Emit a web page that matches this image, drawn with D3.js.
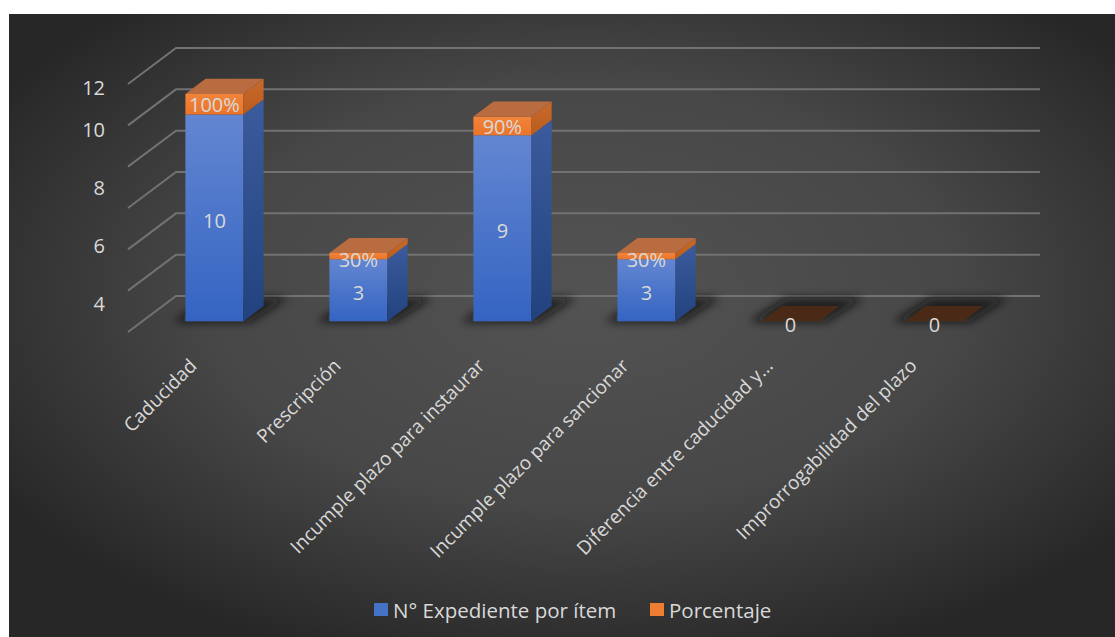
<!DOCTYPE html>
<html>
<head>
<meta charset="utf-8">
<script src="https://cdn.jsdelivr.net/npm/d3@7"></script>
<style>
  html, body { margin: 0; padding: 0; background: #fff; }
  svg { display: block; }
  text { font-family: 'Open Sans', sans-serif; fill: #d9d9d9; }
</style>
</head>
<body>
<svg width="1115" height="637"></svg>
<script>
var categories = [
  'Caducidad',
  'Prescripción',
  'Incumple plazo para instaurar',
  'Incumple plazo para sancionar',
  'Diferencia entre caducidad y...',
  'Improrrogabilidad del plazo'
]
var expedientes = [10, 3, 9, 3, 0, 0]
var porcentaje = [1, 0.3, 0.9, 0.3, 0, 0]
var gridValues = [0, 2, 4, 6, 8, 10, 12]
var tickLabels = [4, 6, 8, 10, 12]
var legendNames = ['N° Expediente por ítem', 'Porcentaje']

var svg = d3.select('svg')
var defs = svg.append('defs')

// background
var bg = defs.append('radialGradient').attr('id', 'bg')
  .attr('cx', '52%').attr('cy', '45%').attr('r', '62%')
bg.append('stop').attr('offset', '0%').attr('stop-color', '#535353')
bg.append('stop').attr('offset', '55%').attr('stop-color', '#474747')
bg.append('stop').attr('offset', '100%').attr('stop-color', '#272727')

function vgrad(id, top, bottom) {
  var g = defs.append('linearGradient').attr('id', id)
    .attr('x1', 0).attr('y1', 0).attr('x2', 0).attr('y2', 1)
  g.append('stop').attr('offset', '0%').attr('stop-color', top)
  g.append('stop').attr('offset', '100%').attr('stop-color', bottom)
}
vgrad('blueFront', '#6386d1', '#3464c2')
vgrad('blueSide', '#3b5b9d', '#22427f')
vgrad('orangeFront', '#f2843a', '#e9742a')
vgrad('orangeSide', '#c86a2c', '#b85c1c')

defs.append('filter').attr('id', 'blur')
  .attr('x', '-50%').attr('y', '-100%').attr('width', '200%').attr('height', '300%')
  .append('feGaussianBlur').attr('stdDeviation', 5)

svg.append('rect')
  .attr('x', 9).attr('y', 14).attr('width', 1106).attr('height', 623)
  .attr('fill', 'url(#bg)')

// front plane scales + depth vector
var x = d3.scaleBand().domain(categories).range([128, 992])
  .paddingInner(0.597).paddingOuter(0.2985)
var y = d3.scaleLinear().domain([0, 12]).range([332, 84])
var depth = [48, -36]
var zFront = 0.3, zBack = 0.72

function P(px, py, z) {
  return [px + depth[0] * z, py + depth[1] * z]
}
function poly(pts) {
  return 'M' + pts.map(p => p[0].toFixed(1) + ',' + p[1].toFixed(1)).join('L') + 'Z'
}

// gridlines (front diagonal + back horizontal)
var grid = svg.append('g')
gridValues.forEach(v => {
  var a = P(128, y(v), 0), b = P(128, y(v), 1), c = P(992, y(v), 1)
  grid.append('path')
    .attr('d', 'M' + a + 'L' + b + 'L' + c)
    .attr('fill', 'none').attr('stroke', '#727272').attr('stroke-width', 2)
})

// value axis labels (Excel places these unevenly)
var tickY = d3.scaleLinear().domain(tickLabels).range([304, 246, 188, 130, 88])
svg.append('g').selectAll('text').data(tickLabels).join('text')
  .attr('x', 105).attr('y', d => tickY(d))
  .attr('dy', '0.35em').attr('text-anchor', 'end')
  .style('font-size', '20px')
  .text(d => d)

var bw = x.bandwidth()

// shadows
var shadows = svg.append('g').attr('filter', 'url(#blur)')
categories.forEach((c, i) => {
  var x0 = x(c), x1 = x0 + bw
  var pts = [P(x0 - 12, y(0), 0.28), P(x1 + 8, y(0), 0.28), P(x1 + 14, y(0), 0.95), P(x0 - 6, y(0), 0.95)]
  shadows.append('path').attr('d', poly(pts)).attr('fill', '#0a0a0a').attr('opacity', 0.75)
})

// bars
var bars = svg.append('g')
categories.forEach((c, i) => {
  var x0 = x(c), x1 = x0 + bw
  var segs = [
    { v0: 0, v1: expedientes[i], front: 'url(#blueFront)', side: 'url(#blueSide)', top: '#4f73bd' },
    { v0: expedientes[i], v1: expedientes[i] + porcentaje[i], front: 'url(#orangeFront)', side: 'url(#orangeSide)', top: '#b96c40' }
  ]
  var total = expedientes[i] + porcentaje[i]
  if (total === 0) {
    var pts = [P(x0, y(0), zFront), P(x1, y(0), zFront), P(x1, y(0), zBack), P(x0, y(0), zBack)]
    bars.append('path').attr('d', poly(pts)).attr('fill', '#4a2917')
    return
  }
  segs.forEach((s, si) => {
    if (s.v1 <= s.v0) return
    var ya = y(s.v0), yb = y(s.v1)
    bars.append('path')
      .attr('d', poly([P(x0, ya, zFront), P(x1, ya, zFront), P(x1, yb, zFront), P(x0, yb, zFront)]))
      .attr('fill', s.front)
    bars.append('path')
      .attr('d', poly([P(x1, ya, zFront), P(x1, ya, zBack), P(x1, yb, zBack), P(x1, yb, zFront)]))
      .attr('fill', s.side)
    if (si === 1) {
      bars.append('path')
        .attr('d', poly([P(x0, yb, zFront), P(x1, yb, zFront), P(x1, yb, zBack), P(x0, yb, zBack)]))
        .attr('fill', s.top)
    }
  })
})

// data labels
var labels = svg.append('g').style('font-size', '20px').attr('text-anchor', 'middle')
var pct = d3.format('.0%')
categories.forEach((c, i) => {
  var cx = x(c) + bw / 2 + depth[0] * zFront
  var dz = depth[1] * zFront
  if (expedientes[i] + porcentaje[i] === 0) {
    labels.append('text').attr('x', cx).attr('y', y(0) + dz + 4)
      .attr('dy', '0.35em').text(expedientes[i])
    return
  }
  labels.append('text').attr('x', cx)
    .attr('y', y(expedientes[i] / 2) + dz + 3).attr('dy', '0.35em')
    .text(expedientes[i])
  var top = y(expedientes[i] + porcentaje[i]) + dz
  var mid = (y(expedientes[i]) + dz + top) / 2
  labels.append('text').attr('x', cx)
    .attr('y', Math.max(mid + 1, top + 7)).attr('dy', '0.35em')
    .text(pct(porcentaje[i]))
})

// category labels
svg.append('g').selectAll('text').data(categories).join('text')
  .attr('transform', d => 'translate(' + (x(d) + bw / 2 - 2) + ',' + 367 + ') rotate(-45)')
  .attr('text-anchor', 'end')
  .style('font-size', '19px')
  .text(d => d)

// legend
var colors = ['#4472c4', '#ed7d31']
var legendX = [374, 650]
var legend = svg.append('g')
legendNames.forEach((n, i) => {
  legend.append('rect').attr('x', legendX[i]).attr('y', 603)
    .attr('width', 14).attr('height', 13).attr('fill', colors[i])
  legend.append('text').attr('x', legendX[i] + 19).attr('y', 618)
    .style('font-size', '20.5px').text(n)
})
</script>
</body>
</html>
